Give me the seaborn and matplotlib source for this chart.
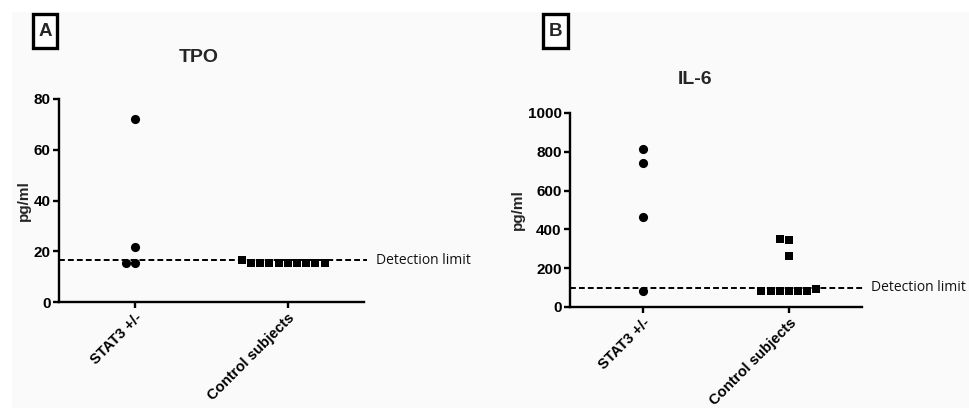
import matplotlib
matplotlib.use("Agg")
import matplotlib.pyplot as plt
import matplotlib.transforms as mtransforms
from matplotlib.patches import Rectangle
import seaborn as sns
import pandas as pd

sns.set_style("white")
plt.rcParams['font.family'] = ['Liberation Sans', 'DejaVu Sans']

groups = ["STAT3 +/-", "Control subjects"]
tpo_stat3 = [72.1, 21.7, 15.4, 15.4]
tpo_ctrl = [15.4, 15.4, 15.4, 15.4, 16.6, 15.4, 15.4, 15.4, 15.4, 15.4]
il6_stat3 = [815, 741, 466, 82]
il6_ctrl = [350, 345, 263, 95, 85, 85, 85, 85, 85, 85]
tpo_limit = 16.5
il6_limit = 98
tpo_yticks = [0, 20, 40, 60, 80]
il6_yticks = [0, 200, 400, 600, 800, 1000]

W, H = 969, 408
fig = plt.figure(figsize=(W / 100, H / 100), dpi=100, facecolor="white")
fig.patches.append(Rectangle((12 / W, 0), 1, 1 - 12 / H, transform=fig.transFigure,
                             facecolor="#fafafa", edgecolor="none", zorder=-10))


def px_axes(x0, x1, ytop, ybot):
    return fig.add_axes([x0 / W, 1 - ybot / H, (x1 - x0) / W, (ybot - ytop) / H])


def panel(ax, stat3, ctrl, limit, yticks, ylim, title, tx, ty, letter, lx, ly, dl_x):
    df_s = pd.DataFrame({"group": [groups[0]] * len(stat3), "value": stat3})
    df_c = pd.DataFrame({"group": [groups[1]] * len(ctrl), "value": ctrl})
    sns.swarmplot(data=df_s, x="group", y="value", order=groups, ax=ax,
                  marker="o", color="black", size=6.6, linewidth=0, zorder=3)
    sns.swarmplot(data=df_c, x="group", y="value", order=groups, ax=ax,
                  marker="s", color="black", size=6.3, linewidth=0, zorder=3)
    ax.set_facecolor("none")
    ax.set_xlim(-0.5, 1.5)
    ax.set_ylim(*ylim)
    ax.set_yticks(yticks)
    ax.set_yticklabels([str(t) for t in yticks], fontsize=11, fontweight="bold")
    ax.set_xticks([0, 1])
    ax.set_xticklabels(groups, fontsize=10.6, fontweight="bold", rotation=45,
                       ha="right", rotation_mode="anchor")
    ax.set_xlabel("")
    ax.set_ylabel("pg/ml", fontsize=11, fontweight="bold", labelpad=2)
    for s in ["top", "right"]:
        ax.spines[s].set_visible(False)
    for s in ["left", "bottom"]:
        ax.spines[s].set_linewidth(1.7)
        ax.spines[s].set_color("black")
    ax.tick_params(axis="both", direction="out", length=4.5, width=1.7, color="black",
                   labelcolor="black", pad=1.5, left=True, bottom=True)
    ax.axhline(limit, xmin=0, xmax=1.01, color="black", lw=1.4,
               linestyle=(0, (3, 1.6)), clip_on=False, zorder=2)
    trans = mtransforms.blended_transform_factory(ax.transAxes, ax.transData)
    ax.text(dl_x, limit, "Detection limit", transform=trans, ha="left", va="center",
            fontsize=10, family=["Open Sans", "DejaVu Sans"], color="#111111")
    fig.text(tx / W, 1 - ty / H, title, ha="center", va="center",
             fontsize=14, fontweight="bold")
    # boxed panel letter
    bx0, bx1, by0, by1 = lx
    fig.patches.append(Rectangle((bx0 / W, 1 - by1 / H), (bx1 - bx0) / W, (by1 - by0) / H,
                                 transform=fig.transFigure, facecolor="white",
                                 edgecolor="black", lw=2.4, zorder=5))
    fig.text((bx0 + bx1) / 2 / W, 1 - ly / H, letter, ha="center", va="center",
             fontsize=13.5, fontweight="bold", zorder=6)


axA = px_axes(59, 364, 99, 302)
panel(axA, tpo_stat3, tpo_ctrl, tpo_limit, tpo_yticks, (0, 80), "TPO", 199, 57,
      "A", (33, 57, 14, 48), 31, (376 - 59) / 305)

axB = px_axes(570, 862, 113, 307)
panel(axB, il6_stat3, il6_ctrl, il6_limit, il6_yticks, (0, 1000), "IL-6", 695, 79,
      "B", (543, 568, 14, 48), 31, (871 - 570) / 292)

fig.savefig("out.png", dpi=100, facecolor=fig.get_facecolor())
